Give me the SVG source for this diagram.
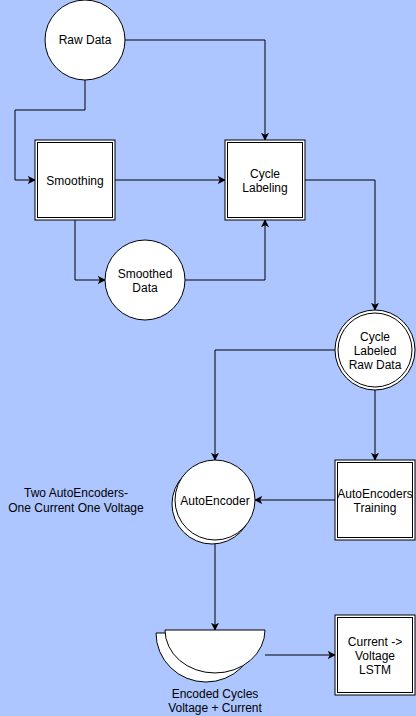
<svg xmlns="http://www.w3.org/2000/svg" width="416" height="716" viewBox="0 0 416 716">
<style>
.n{fill:#fff;stroke:#000;stroke-width:1}
.t{font-family:"Liberation Sans",Arial,sans-serif;font-size:12px;fill:#000;text-anchor:middle}
.c{fill:none;stroke:#000;stroke-width:1}
</style>
<defs>
<marker id="a" viewBox="0 0 10 10" refX="9" refY="5" markerWidth="8" markerHeight="8" markerUnits="userSpaceOnUse" orient="auto">
<path d="M0,0 L10,5 L0,10 L2.5,5 Z" fill="#000"/>
</marker>
</defs>
<rect width="416" height="716" fill="#adc6ff"/>
<g id="connectors">
<path class="c" marker-end="url(#a)" d="M85,80 V110 H15 V180 H35"/>
<path class="c" marker-end="url(#a)" d="M125,40 H265 V140"/>
<path class="c" marker-end="url(#a)" d="M115,180 H225"/>
<path class="c" marker-end="url(#a)" d="M75,220 V280 H105"/>
<path class="c" marker-end="url(#a)" d="M185,280 H265 V220"/>
<path class="c" marker-end="url(#a)" d="M305,180 H375 V310"/>
<path class="c" marker-end="url(#a)" d="M335,350 H215 V460"/>
<path class="c" marker-end="url(#a)" d="M375,390 V460"/>
<path class="c" marker-end="url(#a)" d="M335,500 H255"/>
<path class="c" marker-end="url(#a)" d="M215,540 V630"/>
<path class="c" marker-end="url(#a)" d="M265,655 H335"/>
</g>
<g id="raw-data">
<circle class="n" cx="85" cy="40" r="40"/>
<text class="t" x="85" y="44">Raw Data</text>
</g>
<g id="smoothing">
<rect class="n" x="35" y="140" width="80" height="80"/>
<rect class="n" x="37.5" y="142.5" width="75" height="75"/>
<text class="t" x="75" y="185">Smoothing</text>
</g>
<g id="cycle-labeling">
<rect class="n" x="225" y="140" width="80" height="80"/>
<rect class="n" x="227.5" y="142.5" width="75" height="75"/>
<text class="t" x="265" y="178">Cycle</text>
<text class="t" x="265" y="192">Labeling</text>
</g>
<g id="smoothed-data">
<circle class="n" cx="145" cy="280" r="40"/>
<text class="t" x="145" y="278">Smoothed</text>
<text class="t" x="145" y="292">Data</text>
</g>
<g id="cycle-labeled-raw-data">
<circle class="n" cx="375" cy="350" r="40"/>
<circle class="n" cx="375" cy="350" r="37"/>
<text class="t" x="375" y="341">Cycle</text>
<text class="t" x="375" y="355">Labeled</text>
<text class="t" x="375" y="369">Raw Data</text>
</g>
<g id="autoencoder">
<circle class="n" cx="212" cy="504" r="40"/>
<circle class="n" cx="215" cy="500" r="40"/>
<text class="t" x="215" y="505">AutoEncoder</text>
</g>
<g id="autoencoders-training">
<rect class="n" x="335" y="460" width="80" height="80"/>
<rect class="n" x="337.5" y="462.5" width="75" height="75"/>
<text class="t" x="375" y="498">AutoEncoders</text>
<text class="t" x="375" y="512">Training</text>
</g>
<g id="note">
<text class="t" x="76" y="497">Two AutoEncoders-</text>
<text class="t" x="76" y="512">One Current One Voltage</text>
</g>
<g id="encoded-cycles">
<path class="n" d="M156,633 H256 A50,49 0 0 1 156,633 Z"/>
<path class="n" d="M165,630 H265 A50,43 0 0 1 165,630 Z"/>
<text class="t" x="215" y="698">Encoded Cycles</text>
<text class="t" x="215" y="712">Voltage + Current</text>
</g>
<g id="lstm">
<rect class="n" x="335" y="615" width="80" height="80"/>
<rect class="n" x="337.5" y="617.5" width="75" height="75"/>
<text class="t" x="375" y="646">Current -&gt;</text>
<text class="t" x="375" y="660">Voltage</text>
<text class="t" x="375" y="674">LSTM</text>
</g>
</svg>
